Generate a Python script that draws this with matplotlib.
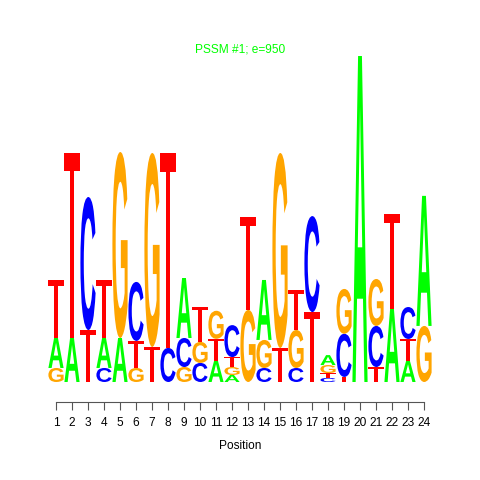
import matplotlib
matplotlib.use("Agg")
import matplotlib.pyplot as plt
from matplotlib.textpath import TextPath
from matplotlib.patches import PathPatch, Polygon
from matplotlib.font_manager import FontProperties
from matplotlib.transforms import Affine2D

# letter heights (bits) per position
positions = list(range(1, 25))
A = [0.184, 0.27, 0, 0.184, 0.27, 0, 0, 0, 0.368, 0, 0.13, 0.043,
     0, 0.368, 0, 0, 0, 0.061, 0, 2.0, 0, 0.448, 0.129, 0.798]
C = [0, 0, 0.816, 0.086, 0, 0.362, 0, 0.209, 0.178, 0.117, 0, 0.196,
     0, 0.086, 0, 0.086, 0.589, 0.025, 0.265, 0, 0.252, 0, 0.196, 0]
G = [0.086, 0, 0, 0, 1.141, 0.086, 1.19, 0, 0.092, 0.129, 0.172, 0.049,
     0.442, 0.172, 1.196, 0.233, 0, 0.049, 0.275, 0, 0.288, 0, 0, 0.344]
T = [0.356, 1.135, 0.319, 0.356, 0, 0.166, 0.215, 1.196, 0, 0.215, 0.135, 0.061,
     0.571, 0, 0.209, 0.245, 0.429, 0.03, 0.031, 0, 0.092, 0.583, 0.135, 0]

colors = {"A": "#00FF00", "C": "#0000FF", "G": "#FFA500", "T": "#FF0000"}
fp = FontProperties(family="Liberation Sans", weight="bold")
plt.rcParams["font.family"] = ["Liberation Sans", "DejaVu Sans"]


def draw_letter(ax, letter, x, y, w, h):
    if letter == "T":
        # seqLogo style T: thin crossbar, fixed share of the height
        bar = 0.1 * h
        sw = 0.28 * w
        pts = [(x - w / 2, y + h), (x + w / 2, y + h), (x + w / 2, y + h - bar),
               (x + sw / 2, y + h - bar), (x + sw / 2, y), (x - sw / 2, y),
               (x - sw / 2, y + h - bar), (x - w / 2, y + h - bar)]
        ax.add_patch(Polygon(pts, closed=True, facecolor=colors[letter], lw=0))
        return
    tp = TextPath((0, 0), letter, size=1, prop=fp)
    bb = tp.get_extents()
    tr = Affine2D().translate(-bb.x0, -bb.y0).scale(w / bb.width, h / bb.height).translate(x - w / 2, y)
    ax.add_patch(PathPatch(tr.transform_path(tp), facecolor=colors[letter], lw=0))


fig = plt.figure(figsize=(4.8, 4.8), dpi=100)
ax = fig.add_axes([0.1, 0.1625, 0.8, 0.7208])

for i, pos in enumerate(positions):
    col = [("A", A[i]), ("C", C[i]), ("G", G[i]), ("T", T[i])]
    col = sorted(col, key=lambda c: c[1])
    y = 0
    for letter, h in col:
        if h <= 0:
            continue
        draw_letter(ax, letter, pos, y, 0.95, h)
        y += h

ax.set_xlim(0.5, 24.5)
ax.set_ylim(-0.1227, 2.0)
for s in ["left", "top", "right"]:
    ax.spines[s].set_visible(False)
ax.spines["bottom"].set_bounds(1, 24)
ax.spines["bottom"].set_color("#555555")
ax.set_xticks(positions)
ax.set_xticklabels([str(p) for p in positions], fontsize=8.6)
ax.tick_params(axis="x", length=6, color="#555555", pad=5)
ax.set_yticks([])
ax.set_xlabel("Position", fontsize=8.6, labelpad=8)

fig.text(0.5, 1 - 50 / 480, "PSSM #1; e=950", color="#00FF00", fontsize=8.6, ha="center", va="center")

fig.savefig("out.png", dpi=100)
